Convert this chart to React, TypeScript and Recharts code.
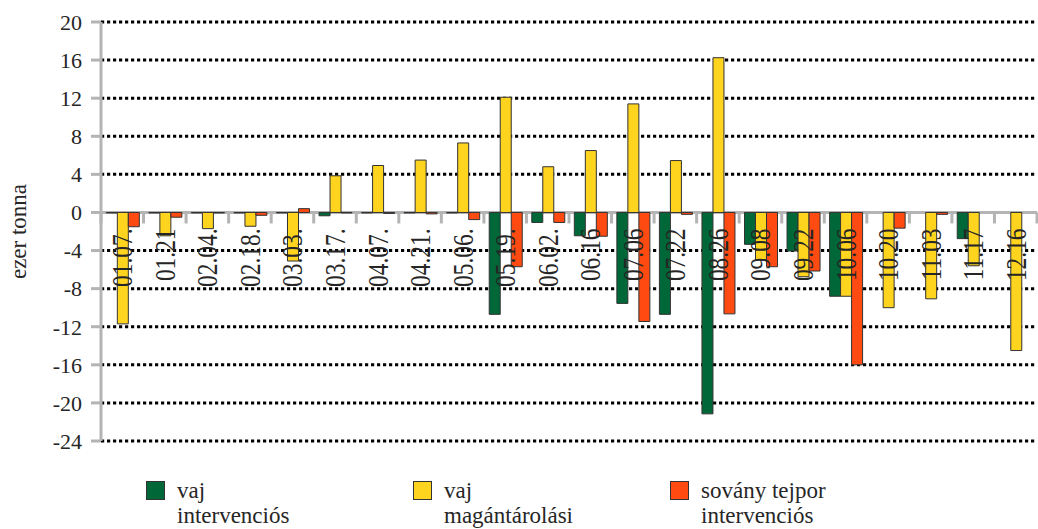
import React from 'react';
import { BarChart, Bar, XAxis, YAxis, CartesianGrid, Label } from 'recharts';

// ---- data ----
const categories = [
  '01.07.', '01.21', '02.04.', '02.18.', '03.03.', '03.17.', '04.07.', '04.21.', '05.06.', '05.19.', '06.02.',
  '06.16', '07.06', '07.22', '08.26', '09.08', '09.22', '10.06', '10.20', '11.03', '11.17', '12.16',
];
const vajIntervencios = [
  -0.05, -0.05, -0.05, -0.05, -0.05, -0.35, -0.05, -0.05, -0.05, -10.7, -1.05,
  -2.45, -9.55, -10.7, -21.15, -3.35, -4.05, -8.8, 0, 0, -2.75, 0,
];
const vajMagantarolasi = [
  -11.7, -2.45, -1.7, -1.45, -5.1, 3.85, 4.93, 5.5, 7.3, 12.1, 4.8,
  6.5, 11.4, 5.45, 16.25, -4.95, -6.75, -8.8, -10.0, -9.07, -5.6, -14.5,
];
const sovanyTejpor = [
  -1.5, -0.5, -0.05, -0.3, 0.4, -0.05, -0.1, -0.15, -0.75, -5.7, -1.05,
  -2.5, -11.45, -0.2, -10.65, -5.7, -6.15, -16.0, -1.65, -0.2, 0, 0,
];
const yTicks = [20, 16, 12, 8, 4, 0, -4, -8, -12, -16, -20, -24];
const seriesNames = ['vaj\nintervenciós', 'vaj\nmagántárolási', 'sovány tejpor\nintervenciós'];
const seriesKeys = ['vajInt', 'vajMag', 'tejpor'];
const seriesColors = ['#006838', '#FFD41F', '#FF4A12'];
const yAxisTitle = 'ezer tonna';

const data = categories.map((cat, i) => ({
  cat,
  vajInt: vajIntervencios[i],
  vajMag: vajMagantarolasi[i],
  tejpor: sovanyTejpor[i],
}));

// ---- layout ----
const W = 1038;
const H = 529;
const XAXIS_H = 1;
const MARGIN = { top: 22, right: 1, bottom: 87, left: 0 };
const YAXIS_W = 101;
const Y_MIN = -24;
const Y_MAX = 20;
const PLOT_W = W - MARGIN.left - MARGIN.right - YAXIS_W;
const PLOT_H = H - MARGIN.top - MARGIN.bottom - XAXIS_H;
const STEP = PLOT_W / categories.length;
const ZERO_Y = MARGIN.top + (PLOT_H * Y_MAX) / (Y_MAX - Y_MIN);
const FONT = "'Liberation Serif', serif";
const AXIS_GRAY = '#b4b4b4';
const TEXT = '#262626';
const LEGEND_X = [146, 413, 670];

const XTick = (props: any) => {
  const { x, payload, index } = props;
  const half = STEP / 2;
  return (
    <g>
      <line x1={x - half} x2={x - half} y1={ZERO_Y} y2={ZERO_Y + 11} stroke={AXIS_GRAY} strokeWidth={3} />
      {index === categories.length - 1 && (
        <line x1={x + half} x2={x + half} y1={ZERO_Y} y2={ZERO_Y + 11} stroke={AXIS_GRAY} strokeWidth={3} />
      )}
      <text
        transform={`translate(${x},${ZERO_Y + 16}) rotate(-90) scale(0.9,1.15)`}
        textAnchor="end"
        dominantBaseline="central"
        fontSize={26}
        style={{ fontFamily: FONT }}
        fill={TEXT}
      >
        {payload.value}
      </text>
    </g>
  );
};

const gridLine = (p: any) => {
  const isZero = Math.abs(p.y1 - ZERO_Y) < 1.5;
  return (
    <line
      key={p.key ?? `g-${p.index}`}
      x1={p.x1}
      x2={p.x2}
      y1={p.y1}
      y2={p.y2}
      stroke={isZero ? AXIS_GRAY : '#000'}
      strokeWidth={3}
      strokeDasharray={isZero ? undefined : '3.2 2.8'}
    />
  );
};

const YTitle = (props: any) => {
  const vb = props.viewBox || { x: 0, y: MARGIN.top, width: YAXIS_W, height: PLOT_H };
  const cy = vb.y + vb.height / 2;
  return (
    <text
      transform={`translate(18,${cy}) rotate(-90)`}
      textAnchor="middle"
      dominantBaseline="central"
      fontSize={23}
      style={{ fontFamily: FONT }}
      fill={TEXT}
    >
      {yAxisTitle}
    </text>
  );
};

export default function App() {
  return (
    <div style={{ position: 'absolute', left: 0, top: 0, width: W, height: H, overflow: 'hidden', background: '#fff' }}>
      <BarChart width={W} height={H} data={data} margin={MARGIN} barCategoryGap="12.5%" barGap={0}>
        <CartesianGrid vertical={false} horizontal={gridLine} />
        <XAxis
          dataKey="cat"
          height={XAXIS_H}
          interval={0}
          axisLine={false}
          tickLine={false}
          tick={<XTick />}
        />
        <YAxis
          width={YAXIS_W}
          domain={[Y_MIN, Y_MAX]}
          ticks={yTicks}
          interval={0}
          allowDataOverflow
          axisLine={{ stroke: AXIS_GRAY, strokeWidth: 3 }}
          tickLine={{ stroke: AXIS_GRAY, strokeWidth: 3 }}
          tickSize={10}
          tickMargin={9}
          tick={{ fontSize: 22, fill: TEXT, style: { fontFamily: FONT } }}
        >
          <Label content={<YTitle />} />
        </YAxis>
        {seriesKeys.map((k, i) => (
          <Bar key={k} dataKey={k} fill={seriesColors[i]} stroke="#333" strokeWidth={1} isAnimationActive={false} />
        ))}
      </BarChart>
      {seriesNames.map((n, i) => (
        <div key={n} style={{ position: 'absolute', left: LEGEND_X[i], top: 478 }}>
          <div
            style={{
              position: 'absolute',
              left: 0,
              top: 3,
              width: 17,
              height: 17,
              background: seriesColors[i],
              border: '1px solid #333',
            }}
          />
          <div
            style={{
              position: 'absolute',
              left: 31,
              top: 0,
              whiteSpace: 'pre',
              fontSize: 23,
              lineHeight: '25px',
              fontFamily: FONT,
              color: TEXT,
            }}
          >
            {n}
          </div>
        </div>
      ))}
    </div>
  );
}
